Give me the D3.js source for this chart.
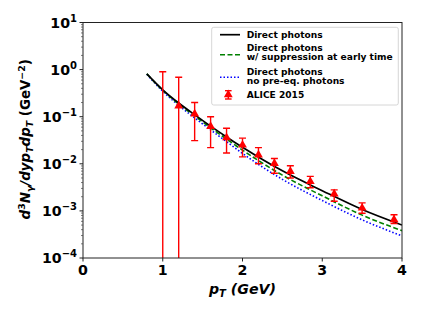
<html>
<head>
<script src="https://cdnjs.cloudflare.com/ajax/libs/d3/7.8.5/d3.min.js"></script>
<style>
  body { margin: 0; padding: 0; background: #fff; }
  text { font-family: "DejaVu Sans", sans-serif; font-weight: bold; }
</style>
</head>
<body>
<svg id="chart" width="423" height="318"></svg>
<script>
// ---- data ----
const curveX = [0.8, 1.0, 1.2, 1.4, 1.6, 1.8, 2.0, 2.5, 3.0, 3.5, 4.0];
const directY = [0.813, 0.372, 0.195, 0.110, 0.063, 0.0372, 0.0224, 0.00708, 0.00269, 0.00107, 0.000501];
const suppressedY = [0.813, 0.363, 0.186, 0.1035, 0.0582, 0.0335, 0.0195, 0.00575, 0.00209, 0.000813, 0.00038];
const noPreEqY = [0.794, 0.347, 0.174, 0.0944, 0.0525, 0.0295, 0.0166, 0.00468, 0.00166, 0.000646, 0.000295];

const aliceX = [1.0, 1.2, 1.4, 1.6, 1.8, 2.0, 2.2, 2.4, 2.6, 2.85, 3.15, 3.5, 3.9];
const aliceY = [0, 0.17, 0.115, 0.062, 0.036, 0.025, 0.0155, 0.0102, 0.0069, 0.0042, 0.0023, 0.00115, 0.00065];
const aliceHi = [0.9, 0.69, 0.2, 0.1, 0.057, 0.035, 0.022, 0.013, 0.0091, 0.0054, 0.0028, 0.00148, 0.00083];
const aliceLo = [0, 0, 0.031, 0.022, 0.017, 0.014, 0.010, 0.0063, 0.005, 0.0031, 0.0016, 0.00089, 0.00054];

const xTicks = [0, 1, 2, 3, 4];
const yExps = [1, 0, -1, -2, -3, -4];

const svg = d3.select("#chart");
const pL = 83, pR = 402, pT = 22.5, pB = 258;
const fs = 14.2, fsSub = 10;

const x = d3.scaleLinear().domain([0, 4]).range([pL, pR]);
const y = d3.scaleLog().domain([1e-4, 10]).range([pB, pT]);

svg.append("defs").append("clipPath").attr("id", "plotclip")
  .append("rect").attr("x", pL).attr("y", pT)
  .attr("width", pR - pL).attr("height", pB - pT);

const plot = svg.append("g").attr("clip-path", "url(#plotclip)");

// theory curves
const line = d3.line().x(d => x(d[0])).y(d => y(d[1])).curve(d3.curveMonotoneX);
const series = [
  { ys: noPreEqY, color: "#0000ff", dash: "1.5,2", w: 1.6 },
  { ys: suppressedY, color: "#008000", dash: "5,2.5", w: 1.6 },
  { ys: directY, color: "#000000", dash: null, w: 1.7 }
];
series.forEach(s => {
  plot.append("path")
    .attr("d", line(curveX.map((v, i) => [v, s.ys[i]])))
    .attr("fill", "none")
    .attr("stroke", s.color)
    .attr("stroke-width", s.w)
    .attr("stroke-dasharray", s.dash);
});

// ALICE points with error bars
const pts = aliceX.map((v, i) => ({ x: v, y: aliceY[i], hi: aliceHi[i], lo: aliceLo[i] }));
const yPix = v => v > 0 ? y(v) : pB + 5;
plot.selectAll("line.err").data(pts).join("line")
  .attr("class", "err")
  .attr("x1", d => x(d.x)).attr("x2", d => x(d.x))
  .attr("y1", d => yPix(d.hi)).attr("y2", d => yPix(d.lo))
  .attr("stroke", "red").attr("stroke-width", 1.4);
plot.selectAll("line.capHi").data(pts).join("line")
  .attr("class", "capHi")
  .attr("x1", d => x(d.x) - 3.5).attr("x2", d => x(d.x) + 3.5)
  .attr("y1", d => yPix(d.hi)).attr("y2", d => yPix(d.hi))
  .attr("stroke", "red").attr("stroke-width", 1.4);
plot.selectAll("line.capLo").data(pts.filter(d => d.lo > 0)).join("line")
  .attr("class", "capLo")
  .attr("x1", d => x(d.x) - 3.5).attr("x2", d => x(d.x) + 3.5)
  .attr("y1", d => y(d.lo)).attr("y2", d => y(d.lo))
  .attr("stroke", "red").attr("stroke-width", 1.4);
const tri = d3.symbol().type(d3.symbolTriangle).size(34);
plot.selectAll("path.mk").data(pts.filter(d => d.y > 0)).join("path")
  .attr("class", "mk")
  .attr("transform", d => `translate(${x(d.x)},${y(d.y)})`)
  .attr("d", tri)
  .attr("fill", "red");

// frame
svg.append("rect").attr("x", pL).attr("y", pT)
  .attr("width", pR - pL).attr("height", pB - pT)
  .attr("fill", "none").attr("stroke", "#222").attr("stroke-width", 1);

// x axis
const xAxis = svg.append("g");
xTicks.forEach(t => {
  xAxis.append("line").attr("x1", x(t)).attr("x2", x(t))
    .attr("y1", pB).attr("y2", pB + 3.5).attr("stroke", "#222");
  xAxis.append("text").attr("x", x(t)).attr("y", pB + 17)
    .attr("text-anchor", "middle").attr("font-size", fs).text(t);
});

// y axis: major + minor ticks
const yAxis = svg.append("g");
for (let e = -4; e <= 0; e++) {
  for (let m = 2; m <= 9; m++) {
    const v = m * Math.pow(10, e);
    yAxis.append("line").attr("x1", pL).attr("x2", pL - 2)
      .attr("y1", y(v)).attr("y2", y(v)).attr("stroke", "#444").attr("stroke-width", 0.7);
  }
}
yExps.forEach(e => {
  const yy = y(Math.pow(10, e));
  yAxis.append("line").attr("x1", pL).attr("x2", pL - 3.5)
    .attr("y1", yy).attr("y2", yy).attr("stroke", "#222");
  const t = yAxis.append("text").attr("x", pL - 6).attr("y", yy + 5.2)
    .attr("text-anchor", "end").attr("font-size", fs);
  t.append("tspan").text("10");
  t.append("tspan").attr("dy", -6).attr("font-size", fsSub).text(e < 0 ? "\u2212" + (-e) : e);
});

// axis labels
const xl = svg.append("text").attr("x", x(2)).attr("y", 294)
  .attr("text-anchor", "middle").attr("font-size", fs).attr("font-style", "italic");
xl.append("tspan").text("p");
xl.append("tspan").attr("dy", 3).attr("font-size", fsSub).text("T");
xl.append("tspan").attr("dy", -3).text(" (GeV)");

const yfs = 13.4, yfsSub = 9.4;
const yl = svg.append("text")
  .attr("transform", `translate(30,${(pT + pB) / 2 - 1}) rotate(-90)`)
  .attr("text-anchor", "middle").attr("font-size", yfs);
yl.append("tspan").attr("font-style", "italic").text("d");
yl.append("tspan").attr("dy", -5).attr("font-size", yfsSub).text("3");
yl.append("tspan").attr("dy", 5).attr("font-style", "italic").text("N");
yl.append("tspan").attr("dy", 3).attr("font-size", yfsSub).attr("font-style", "italic").text("\u03b3");
yl.append("tspan").attr("dy", -3).attr("font-style", "italic").text("/dyp");
yl.append("tspan").attr("dy", 3).attr("font-size", yfsSub).attr("font-style", "italic").text("T");
yl.append("tspan").attr("dy", -3).attr("font-style", "italic").text("dp");
yl.append("tspan").attr("dy", 3).attr("font-size", yfsSub).attr("font-style", "italic").text("T");
yl.append("tspan").attr("dy", -3).text(" (GeV");
yl.append("tspan").attr("dy", -5).attr("font-size", yfsSub).text("\u22122");
yl.append("tspan").attr("dy", 5).text(")");

// legend
const lg = svg.append("g");
lg.append("rect").attr("x", 211.7).attr("y", 27.3).attr("width", 186.6).attr("height", 77.7)
  .attr("rx", 2).attr("fill", "#fff").attr("fill-opacity", 0.8)
  .attr("stroke", "#ccc").attr("stroke-width", 0.8);
const lgFont = 9.1, tx = 246.7;
lg.append("line").attr("x1", 220).attr("x2", 240).attr("y1", 34.7).attr("y2", 34.7)
  .attr("stroke", "#000").attr("stroke-width", 1.7);
lg.append("text").attr("x", tx).attr("y", 38).attr("font-size", lgFont).text("Direct photons");
lg.append("line").attr("x1", 220).attr("x2", 240).attr("y1", 54.7).attr("y2", 54.7)
  .attr("stroke", "#008000").attr("stroke-width", 1.6).attr("stroke-dasharray", "5,2.5");
lg.append("text").attr("x", tx).attr("y", 50.7).attr("font-size", lgFont).text("Direct photons");
lg.append("text").attr("x", tx).attr("y", 60).attr("font-size", lgFont).text("w/ suppression at early time");
lg.append("line").attr("x1", 220).attr("x2", 240).attr("y1", 77.3).attr("y2", 77.3)
  .attr("stroke", "#0000ff").attr("stroke-width", 1.6).attr("stroke-dasharray", "1.5,2");
lg.append("text").attr("x", tx).attr("y", 74.7).attr("font-size", lgFont).text("Direct photons");
lg.append("text").attr("x", tx).attr("y", 84).attr("font-size", lgFont).text("no pre-eq. photons");
lg.append("line").attr("x1", 228.3).attr("x2", 228.3).attr("y1", 90.7).attr("y2", 99)
  .attr("stroke", "red").attr("stroke-width", 1.4);
lg.append("line").attr("x1", 225).attr("x2", 231.6).attr("y1", 90.7).attr("y2", 90.7)
  .attr("stroke", "red").attr("stroke-width", 1.4);
lg.append("line").attr("x1", 225).attr("x2", 231.6).attr("y1", 99).attr("y2", 99)
  .attr("stroke", "red").attr("stroke-width", 1.4);
lg.append("path").attr("transform", "translate(228.3,94.7)").attr("d", tri).attr("fill", "red");
lg.append("text").attr("x", tx).attr("y", 98).attr("font-size", lgFont).text("ALICE 2015");
</script>
</body>
</html>
